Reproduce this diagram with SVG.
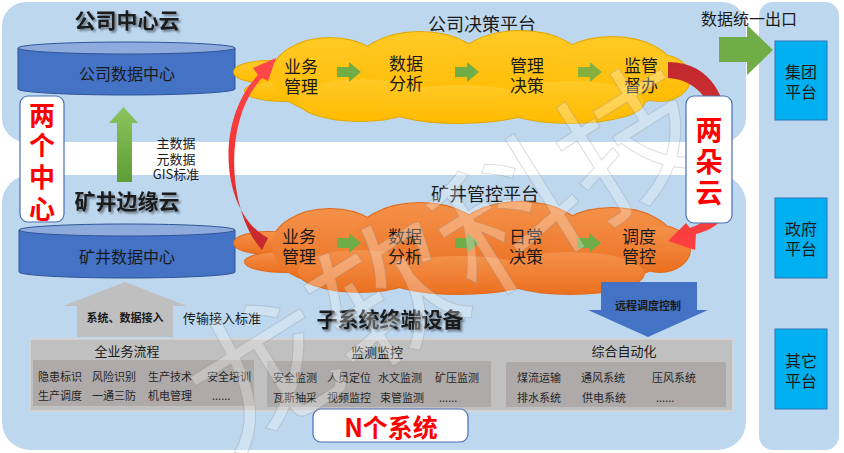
<svg xmlns="http://www.w3.org/2000/svg" xmlns:xlink="http://www.w3.org/1999/xlink" width="844" height="453" viewBox="0 0 844 453">
<defs>
<style>
.t{font-family:'Noto Sans CJK SC','Liberation Sans',sans-serif;fill:#1a1a1a;text-anchor:middle;dominant-baseline:central}
.s{font-family:'Noto Sans CJK SC','Liberation Sans',sans-serif;fill:#262626;font-size:11px;dominant-baseline:central}
.title{font-size:21px;font-weight:bold;filter:url(#sh)}
.red{fill:#ff0000;font-weight:bold}
.cyl{font-size:16px;fill:#1a1a1a}
.cl{font-size:17px}
.panel{fill:#bdd7ee}
.box{fill:#00b0f0;stroke:#2e75b6;stroke-width:1}
.lbl{fill:#ffffff;stroke:#4a6fb5;stroke-width:1.2}
.ga{fill:#70ad47}
.inner{fill:#aeaaaa}
</style>
<filter id="sh" x="-10%" y="-20%" width="130%" height="160%"><feDropShadow dx="2" dy="2" stdDeviation="1.2" flood-color="#000" flood-opacity="0.45"/></filter>
<linearGradient id="gY" x1="0" y1="0" x2="0" y2="1"><stop offset="0" stop-color="#ffc926"/><stop offset="1" stop-color="#ffbb00"/></linearGradient>
<linearGradient id="gO" x1="0" y1="0" x2="0" y2="1"><stop offset="0" stop-color="#f4914a"/><stop offset="1" stop-color="#eb7020"/></linearGradient>
<linearGradient id="gUp" x1="0" y1="0" x2="0" y2="1"><stop offset="0" stop-color="#8cc45e"/><stop offset="1" stop-color="#5f9e35"/></linearGradient>
<linearGradient id="rL" gradientUnits="userSpaceOnUse" x1="0" y1="58" x2="0" y2="250"><stop offset="0" stop-color="#ff4a4a"/><stop offset="0.6" stop-color="#f03030"/><stop offset="1" stop-color="#c0282d"/></linearGradient>
<linearGradient id="rR" gradientUnits="userSpaceOnUse" x1="0" y1="62" x2="0" y2="250"><stop offset="0" stop-color="#c0282d"/><stop offset="1" stop-color="#ff4040"/></linearGradient>
<g id="cloud">
<ellipse cx="268" cy="72" rx="34" ry="11"/>
<ellipse cx="285" cy="91" rx="40" ry="10"/>
<ellipse cx="330" cy="75" rx="58" ry="37"/>
<ellipse cx="420" cy="70" rx="66" ry="38"/>
<ellipse cx="520" cy="68" rx="66" ry="37"/>
<ellipse cx="612" cy="72" rx="62" ry="35"/>
<ellipse cx="660" cy="78" rx="30" ry="23"/>
<ellipse cx="360" cy="100" rx="62" ry="21"/>
<ellipse cx="460" cy="104" rx="78" ry="19"/>
<ellipse cx="570" cy="102" rx="74" ry="21"/>
</g>
</defs>
<rect width="844" height="453" fill="#ffffff"/>

<g id="panels">
<rect class="panel" x="2" y="2" width="744" height="140" rx="24"/>
<rect class="panel" x="2" y="175" width="744" height="275" rx="28"/>
<rect class="panel" x="759" y="2" width="80" height="448" rx="14"/>
</g>

<g id="titles">
<text class="t title" x="127" y="19">公司中心云</text>
<text class="t title" x="127" y="200">矿井边缘云</text>
<text class="t title" x="390" y="318">子系统终端设备</text>
<text class="t" x="482" y="23" font-size="18">公司决策平台</text>
<text class="t" x="485" y="193" font-size="18">矿井管控平台</text>
<text class="t" x="749" y="18" font-size="16">数据统一出口</text>
</g>

<g id="company-dc">
<path d="M18 48 L18 89 A108.5 6 0 0 0 235 89 L235 48 Z" fill="#4472c4" stroke="#2f5597" stroke-width="1"/>
<ellipse cx="126.5" cy="48" rx="108.5" ry="6" fill="#8faadc" stroke="#2f5597" stroke-width="1"/>
<text class="t cyl" x="127" y="73">公司数据中心</text>
</g>

<g id="mine-dc">
<path d="M19 230 L19 272 A108 6 0 0 0 235 272 L235 230 Z" fill="#4472c4" stroke="#2f5597" stroke-width="1"/>
<ellipse cx="127" cy="230" rx="108" ry="6" fill="#8faadc" stroke="#2f5597" stroke-width="1"/>
<text class="t cyl" x="127" y="256">矿井数据中心</text>
</g>

<g id="decision-cloud">
<use xlink:href="#cloud" fill="#e0a800" stroke="#e0a800" stroke-width="2"/>
<use xlink:href="#cloud" fill="url(#gY)"/>
<text class="t cl" x="301" y="65">业务<tspan x="301" dy="20">管理</tspan></text>
<text class="t cl" x="406" y="62">数据<tspan x="406" dy="20">分析</tspan></text>
<text class="t cl" x="527" y="64">管理<tspan x="527" dy="20">决策</tspan></text>
<text class="t cl" x="641" y="64">监管<tspan x="641" dy="20">督办</tspan></text>
</g>

<g id="control-cloud">
<use xlink:href="#cloud" transform="translate(0,171)" fill="#e06a1a" stroke="#e06a1a" stroke-width="2"/>
<use xlink:href="#cloud" transform="translate(0,171)" fill="url(#gO)"/>
<text class="t cl" x="299" y="235">业务<tspan x="299" dy="20">管理</tspan></text>
<text class="t cl" x="405" y="235">数据<tspan x="405" dy="20">分析</tspan></text>
<text class="t cl" x="526" y="235">日常<tspan x="526" dy="20">决策</tspan></text>
<text class="t cl" x="639" y="235">调度<tspan x="639" dy="20">管控</tspan></text>
</g>

<g id="platforms">
<rect class="box" x="775" y="41" width="52" height="79"/>
<text class="t" x="801" y="71" font-size="16">集团<tspan x="801" dy="20">平台</tspan></text>
<rect class="box" x="775" y="198" width="52" height="80"/>
<text class="t" x="801" y="228" font-size="16">政府<tspan x="801" dy="20">平台</tspan></text>
<rect class="box" x="775" y="329" width="52" height="80"/>
<text class="t" x="801" y="360" font-size="16">其它<tspan x="801" dy="20">平台</tspan></text>
</g>

<g id="subsystems">
<rect x="30" y="339" width="703" height="72" fill="#c0c0c0" stroke="#d6d6d6" stroke-width="1.5"/>
<rect class="inner" x="33" y="360" width="221" height="46"/>
<rect class="inner" x="267" y="361" width="224" height="46"/>
<rect class="inner" x="506" y="362" width="220" height="45"/>
<text class="t" x="127" y="350" font-size="13" fill="#262626">全业务流程</text>
<text class="t" x="377" y="351" font-size="13" fill="#262626">监测监控</text>
<text class="t" x="624" y="350" font-size="13" fill="#262626">综合自动化</text>
<text class="s" x="38" y="376">隐患标识</text><text class="s" x="92" y="376">风险识别</text><text class="s" x="148" y="376">生产技术</text><text class="s" x="207" y="376">安全培训</text>
<text class="s" x="38" y="395">生产调度</text><text class="s" x="92" y="395">一通三防</text><text class="s" x="148" y="395">机电管理</text><text class="s" x="212" y="395">......</text>
<text class="s" x="273" y="377">安全监测</text><text class="s" x="327" y="377">人员定位</text><text class="s" x="378" y="377">水文监测</text><text class="s" x="435" y="377">矿压监测</text>
<text class="s" x="273" y="397">瓦斯抽采</text><text class="s" x="327" y="397">视频监控</text><text class="s" x="380" y="397">束管监测</text><text class="s" x="439" y="397">......</text>
<text class="s" x="517" y="377">煤流运输</text><text class="s" x="581" y="377">通风系统</text><text class="s" x="652" y="377">压风系统</text>
<text class="s" x="517" y="397">排水系统</text><text class="s" x="582" y="397">供电系统</text><text class="s" x="656" y="397">......</text>
</g>

<g id="connectors">
<path d="M719 37 L747 37 L747 25 L773 50 L747 75 L747 62 L719 62 Z" fill="#70ad47"/>
<path d="M117 182 L117 123 L109 123 L123.5 107 L138 123 L132 123 L132 182 Z" fill="url(#gUp)"/>
<path d="M77 337 L77 306 L63 306 L125 282 L187 306 L173 306 L173 337 Z" fill="#bfbfbf"/>
<path d="M601 282 L697 282 L697 310 L708 310 L648 337 L588 310 L601 310 Z" fill="#4472c4"/>
<path class="ga" d="M337 67 L349 67 L349 62 L361 72 L349 82 L349 77 L337 77 Z"/>
<path class="ga" d="M455 67 L467 67 L467 62 L479 72 L467 82 L467 77 L455 77 Z"/>
<path class="ga" d="M578 67 L590 67 L590 62 L602 72 L590 82 L590 77 L578 77 Z" opacity="0.85"/>
<path class="ga" d="M337 238 L349 238 L349 233 L361 243 L349 253 L349 248 L337 248 Z"/>
<path class="ga" d="M455 238 L467 238 L467 233 L479 243 L467 253 L467 248 L455 248 Z"/>
<path class="ga" d="M577 238 L589 238 L589 233 L601 243 L589 253 L589 248 L577 248 Z"/>
<path d="M268 238 C222 214 213 122 258 75 L253 68 L276 58 L268 81 L262 78 C221 122 229 214 262 250 Z" fill="url(#rL)"/>
<path d="M668 62 C712 62 729 100 729 140 L727 205 C725 222 712 230 696 234 L695 250 L668 241 L686 223 L690 228 C706 222 716 214 716 200 L716 140 C716 106 700 80 668 78 Z" fill="url(#rR)"/>
<text class="t" x="176" y="142" font-size="13">主数据<tspan x="176" dy="16">元数据</tspan><tspan x="176" dy="15">GIS标准</tspan></text>
<text class="t" x="125" y="317" font-size="11" font-weight="bold">系统、数据接入</text>
<text class="t" x="222" y="317" font-size="13">传输接入标准</text>
<text class="t" x="648" y="305" font-size="11" font-weight="bold" fill="#1a1f3a">远程调度控制</text>
</g>

<g id="watermark">
<text transform="translate(230,455) rotate(-32)" font-family="'Noto Sans CJK SC',sans-serif" font-size="145" fill="#ffffff" fill-opacity="0.28" stroke="#808080" stroke-opacity="0.28" stroke-width="1">龙软科技</text>
</g>

<g id="two-centers">
<rect class="lbl" x="20" y="96" width="44" height="126" rx="8"/>
<text class="t red" x="42" y="113" font-size="26">两<tspan x="42" dy="30">个</tspan><tspan x="42" dy="32">中</tspan><tspan x="42" dy="32">心</tspan></text>
</g>

<g id="two-clouds">
<rect class="lbl" x="686" y="96" width="46" height="127" rx="8"/>
<text class="t red" x="709" y="128" font-size="27">两<tspan x="709" dy="32">朵</tspan><tspan x="709" dy="31">云</tspan></text>
</g>

<g id="n-systems">
<rect class="lbl" x="313" y="409" width="155" height="33" rx="8"/>
<text class="t red" x="391" y="426" font-size="25">N个系统</text>
</g>
</svg>
